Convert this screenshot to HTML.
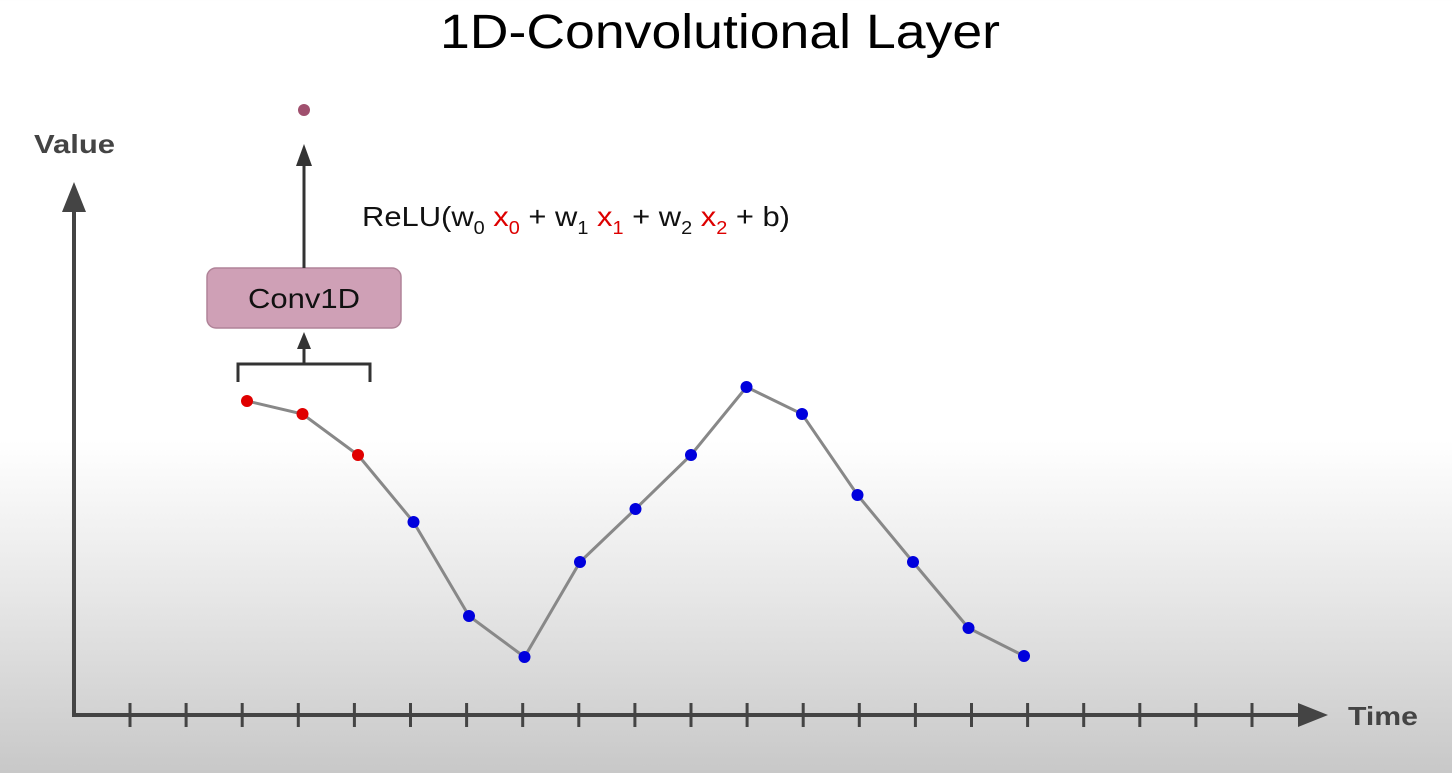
<!DOCTYPE html>
<html><head><meta charset="utf-8"><style>
html,body{margin:0;padding:0;width:1452px;height:773px;overflow:hidden}
body{background:linear-gradient(to bottom,#fff 0px,#fff 440px,#e6e6e6 600px,#c8c8c8 773px);font-family:"Liberation Sans",sans-serif}
</style></head><body>
<svg width="1452" height="773">
<text x="440" y="48" font-size="48" textLength="560" lengthAdjust="spacingAndGlyphs" fill="#000">1D-Convolutional Layer</text>
<text x="34" y="153" font-size="26" textLength="81" lengthAdjust="spacingAndGlyphs" font-weight="bold" fill="#444">Value</text>
<text x="1348" y="725" font-size="26" textLength="70" lengthAdjust="spacingAndGlyphs" font-weight="bold" fill="#444">Time</text>
<g id="axes">
<line x1="74" y1="715" x2="74" y2="200" stroke="#444" stroke-width="4"/>
<polygon points="62,212 74,182 86,212" fill="#444"/>
<line x1="72" y1="715" x2="1305" y2="715" stroke="#444" stroke-width="4"/>
<polygon points="1298,703 1328,715 1298,727" fill="#444"/>
</g>
<g id="ticks"></g>
<g>
<path d="M238,382 V364 H370 V382" fill="none" stroke="#333" stroke-width="3"/>
<line x1="304" y1="364" x2="304" y2="345" stroke="#333" stroke-width="3"/>
<polygon points="297,349 304,332 311,349" fill="#333"/>
<rect x="207" y="268" width="194" height="60" rx="9" fill="#cfa0b6" stroke="#b08398" stroke-width="1.5"/>
<text x="248" y="308" font-size="28" textLength="112" lengthAdjust="spacingAndGlyphs" fill="#111">Conv1D</text>
<line x1="304" y1="268" x2="304" y2="160" stroke="#333" stroke-width="3"/>
<polygon points="296,166 304,144 312,166" fill="#333"/>
<circle cx="304" cy="110" r="6" fill="#a0506e"/>
</g>
<text x="362" y="226" font-size="28" textLength="428" lengthAdjust="spacingAndGlyphs" fill="#111">ReLU(w<tspan font-size="18" dy="8">0</tspan><tspan dy="-8" fill="#d00"> x</tspan><tspan font-size="18" dy="8" fill="#d00">0</tspan><tspan dy="-8"> + w</tspan><tspan font-size="18" dy="8">1</tspan><tspan dy="-8" fill="#d00"> x</tspan><tspan font-size="18" dy="8" fill="#d00">1</tspan><tspan dy="-8"> + w</tspan><tspan font-size="18" dy="8">2</tspan><tspan dy="-8" fill="#d00"> x</tspan><tspan font-size="18" dy="8" fill="#d00">2</tspan><tspan dy="-8"> + b)</tspan></text>
<g id="series"></g>
</svg>
<script>
const timeSteps=[0,1,2,3,4,5,6,7,8,9,10,11,12,13,14];
const values=[31.4,30.1,26.0,19.3,9.9,5.8,15.3,20.6,26.0,32.8,30.1,22.0,15.3,8.7,5.9];
const windowIdx=[0,1,2];
const tickCount=21;
const NS="http://www.w3.org/2000/svg";
function xScale(t){return 247+t*55.5;}
function yScale(v){return 715-v*10;}
function tickX(i){return 130+i*56.1;}
const tg=document.getElementById('ticks');
for(let i=0;i<tickCount;i++){
 const l=document.createElementNS(NS,'line');
 l.setAttribute('x1',tickX(i));l.setAttribute('x2',tickX(i));
 l.setAttribute('y1',703);l.setAttribute('y2',727);
 l.setAttribute('stroke','#444');l.setAttribute('stroke-width','3');
 
 
 tg.appendChild(l);
}
const sg=document.getElementById('series');
const pl=document.createElementNS(NS,'polyline');
pl.setAttribute('points',timeSteps.map((t,i)=>xScale(t)+','+yScale(values[i])).join(' '));
pl.setAttribute('fill','none');pl.setAttribute('stroke','#888');pl.setAttribute('stroke-width','3');


sg.appendChild(pl);
timeSteps.forEach((t,i)=>{
 const c=document.createElementNS(NS,'circle');
 c.setAttribute('cx',xScale(t));c.setAttribute('cy',yScale(values[i]));c.setAttribute('r',6);
 c.setAttribute('fill',windowIdx.includes(i)?'#e00000':'#0000dd');
 
 
 sg.appendChild(c);
});
</script>
</body></html>
